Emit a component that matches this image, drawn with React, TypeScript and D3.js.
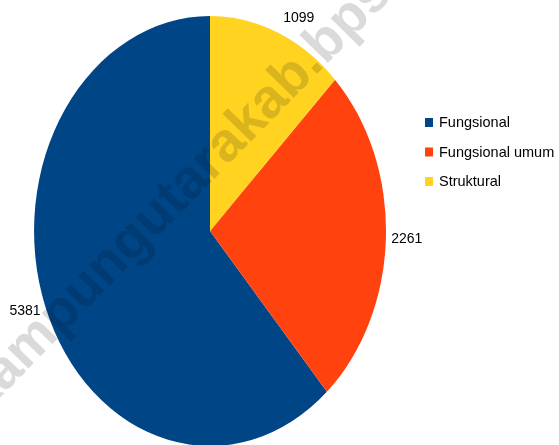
import { useEffect, useRef } from 'react';
import * as d3 from 'd3';

const categories = ['Fungsional', 'Fungsional umum', 'Struktural'];
const values = [5381, 2261, 1099];
const colors = ['#004586', '#ff420e', '#ffd320'];
// drawing order in the pie (clockwise from 12 o'clock)
const pieOrder = ['Struktural', 'Fungsional umum', 'Fungsional'];

const W = 559;
const H = 445;

export default function App() {
  const svgRef = useRef<SVGSVGElement>(null);

  useEffect(() => {
    if (!svgRef.current) return;
    const svg = d3.select(svgRef.current);
    svg.selectAll('*').remove();

    const data = categories.map((c, i) => ({ name: c, value: values[i], color: colors[i] }));
    const cx = 210;
    const cy = 231;
    const rx = 176;
    const ry = 215;

    const pie = d3.pie<any>()
      .value(d => d.value)
      .sort((a, b) => pieOrder.indexOf(a.name) - pieOrder.indexOf(b.name));
    const arcs = pie(data);
    const arc = d3.arc<any>().innerRadius(0).outerRadius(1);

    const g = svg.append('g').attr('transform', `translate(${cx},${cy}) scale(${rx},${ry})`);
    g.selectAll('path')
      .data(arcs)
      .join('path')
      .attr('d', arc)
      .attr('fill', d => d.data.color);

    // value labels, placed just outside the ellipse
    const labelPos: Record<string, [number, string]> = {
      Struktural: [1.08, 'start'],
      'Fungsional umum': [1.03, 'start'],
      Fungsional: [1.03, 'end'],
    };
    const lg = svg.append('g');
    arcs.forEach(a => {
      const mid = (a.startAngle + a.endAngle) / 2;
      const [k, anchor] = labelPos[a.data.name];
      const x = cx + Math.sin(mid) * rx * k;
      const y = cy - Math.cos(mid) * ry * k;
      lg.append('text')
        .attr('x', x)
        .attr('y', y)
        .attr('dy', '0.35em')
        .attr('text-anchor', anchor)
        .attr('font-family', '"Liberation Sans", Arial, sans-serif')
        .attr('font-size', 14)
        .attr('fill', '#000')
        .text(a.data.value);
    });

    // legend
    const legend = svg.append('g').attr('transform', 'translate(425,118)');
    data.forEach((d, i) => {
      const row = legend.append('g').attr('transform', `translate(0,${i * 29.5})`);
      row.append('rect').attr('width', 8).attr('height', 9).attr('fill', d.color);
      row.append('text')
        .attr('x', 14)
        .attr('y', 9)
        .attr('font-family', '"Liberation Sans", Arial, sans-serif')
        .attr('font-size', 14.5)
        .attr('fill', '#000')
        .text(d.name);
    });

    // watermark
    svg.append('text')
      .attr('transform', 'translate(-17,415) rotate(-45.6)')
      .attr('font-family', '"Liberation Sans", Arial, sans-serif')
      .attr('font-weight', 'bold')
      .attr('font-size', 55)
      .attr('fill', '#dadada')
      .style('mix-blend-mode', 'multiply')
      .text('kampungutarakab.bps.go.id');
  }, []);

  return (
    <svg
      ref={svgRef}
      width={W}
      height={H}
      style={{ position: 'absolute', left: 0, top: 0, background: '#fff' }}
    />
  );
}
